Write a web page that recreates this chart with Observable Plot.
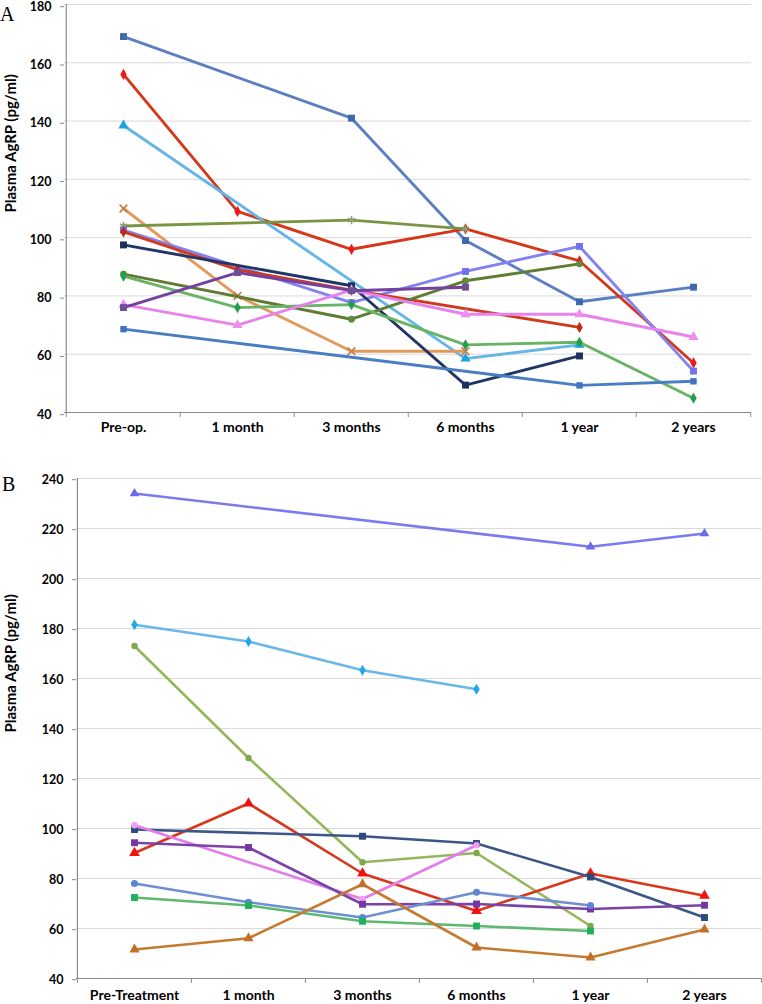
<!DOCTYPE html>
<html><head><meta charset="utf-8">
<script src="https://cdn.jsdelivr.net/npm/d3@7"></script>
<script src="https://cdn.jsdelivr.net/npm/@observablehq/plot@0.6"></script>
<style>
body{margin:0;background:#fff;}
#wrap{position:relative;width:762px;height:1004px;overflow:hidden;}
.panel{position:absolute;left:0;}
.tag{position:absolute;font-family:"Liberation Serif","DejaVu Serif",serif;font-size:20px;color:#000;}
</style></head><body>
<div id="wrap">
  <div id="pa" class="panel" style="top:0px"></div>
  <div id="pb" class="panel" style="top:450px"></div>
  <div class="tag" style="left:0px;top:3px">A</div>
  <div class="tag" style="left:2px;top:473px">B</div>
</div>
<script>
// ---------- data ----------
const categoriesA = ["Pre-op.", "1 month", "3 months", "6 months", "1 year", "2 years"];
const categoriesB = ["Pre-Treatment", "1 month", "3 months", "6 months", "1 year", "2 years"];
const yTicksA = [40, 60, 80, 100, 120, 140, 160, 180];
const yTicksB = [40, 60, 80, 100, 120, 140, 160, 180, 200, 220, 240];
const yTitle = "Plasma AgRP (pg/ml)";

// Panel A series (Pre-op, 1m, 3m, 6m, 1y, 2y)
const a1 = [169, null, 141, 99, 78, 83];
const a2 = [156, 109, 96, 103, 92, 57];
const a3 = [138.5, null, null, 58.5, 63.2, null];
const a4 = [110, 80, 61, 61, null, null];
const a5 = [104, null, 106, 103, null, null];
const a6 = [102.6, null, 77.7, 88.4, 97, 54.2];
const a7 = [102, 89, 82, null, 69.2, null];
const a8 = [97.5, null, 83.5, 49.4, 59.4, null];
const a9 = [87.5, null, 72, 85.2, 91, null];
const a10 = [86.8, 76, 77, 63.2, 64.1, 44.9];
const a11 = [77, 70, 82, 73.7, 73.7, 65.9];
const a12 = [76, 88, 81.8, 83, null, null];
const a13 = [68.6, null, null, null, 49.3, 50.7];

// Panel B series (Pre-Treatment, 1m, 3m, 6m, 1y, 2y)
const b1 = [234, null, null, null, 212.7, 218];
const b2 = [181.5, 174.8, 163.3, 155.7, null, null];
const b3 = [173, 128.2, 86.5, 90.2, 61, null];
const b4 = [90.2, 110, 82, 67, 82, 73.1];
const b5 = [99.6, null, 96.9, 94, 80.6, 64.4];
const b6 = [101.3, null, 71.8, 93.3, null, null];
const b7 = [94.3, 92.4, 69.7, 69.8, 67.8, 69.3];
const b8 = [78, 70.5, 64.4, 74.5, 69.2, null];
const b9 = [72.4, 69.2, 62.9, 61, 59, null];
const b10 = [51.6, 56.1, 77.7, 52.4, 48.4, 59.6];

// ---------- styles ----------
const seriesA = [a1, a2, a3, a4, a5, a6, a7, a8, a9, a10, a11, a12, a13];
const stylesA = [
  {line:"#5b7fc1", mark:"#3f69ad", sym:"square", r:3.9},
  {line:"#d6361a", mark:"#ee1a1a", sym:"diamond", r:3.4},
  {line:"#64b6e8", mark:"#1ea3e2", sym:"triangle", r:3.8},
  {line:"#e19a5c", mark:"#c97d45", sym:"times", r:3.6},
  {line:"#7a9443", mark:"#8f9f73", sym:"asterisk", r:3.8},
  {line:"#8282f0", mark:"#7272ee", sym:"square", r:3.9},
  {line:"#cf3a1e", mark:"#c0281a", sym:"diamond", r:3.4},
  {line:"#203667", mark:"#1c2f5e", sym:"square", r:3.9},
  {line:"#5f7c33", mark:"#5f8c3c", sym:"circle", r:3.4},
  {line:"#68b364", mark:"#20a04c", sym:"diamond", r:3.4},
  {line:"#e882ec", mark:"#f08ef0", sym:"triangle", r:3.8},
  {line:"#7342a0", mark:"#6e4f96", sym:"square", r:3.9},
  {line:"#4a7ec2", mark:"#3d73c2", sym:"square", r:3.6}
];
const seriesB = [b1, b2, b3, b4, b5, b6, b7, b8, b9, b10];
const stylesB = [
  {line:"#7b7bee", mark:"#6a6aea", sym:"triangle", r:3.6},
  {line:"#68b9e8", mark:"#1ea8ea", sym:"diamond", r:3.4},
  {line:"#96b65c", mark:"#7fa84c", sym:"circle", r:3.2},
  {line:"#d9361a", mark:"#f21010", sym:"triangle", r:4},
  {line:"#3b5687", mark:"#2d4a7c", sym:"square", r:3.9},
  {line:"#e47cea", mark:"#f29df0", sym:"circle", r:3.2},
  {line:"#7b42a8", mark:"#7436a4", sym:"square", r:3.9},
  {line:"#6e8fd0", mark:"#5f86d4", sym:"circle", r:3.6},
  {line:"#5db870", mark:"#1fb05c", sym:"square", r:3.9},
  {line:"#c57a32", mark:"#c07028", sym:"triangle", r:3.8}
];

function makePanel(cfg) {
  const {cats, series, styles, yTicks, height, ml, mr, mt, mb, lineW, xPad, labelX, labelDy, tickDy} = cfg;
  const width = 762;
  const step = (width - ml - mr) / cats.length;
  const axisGrey = "#8c8c8c";
  const marks = [
    Plot.gridY(yTicks, {stroke:"#d9d9d9", strokeOpacity:1, strokeWidth:1}),
    Plot.ruleY([yTicks[0]], {stroke:axisGrey, strokeWidth:1.2}),
    Plot.ruleX([cats[0]], {dx:-step/2, stroke:axisGrey, strokeWidth:1.2}),
    Plot.axisY(yTicks, {tickSize:4, tickPadding:9, dy:tickDy, stroke:axisGrey, fontSize:12.5, label:null}),
    Plot.axisX(cats, {tickSize:0, tickPadding:xPad, fontSize:14, label:null}),
    Plot.axisX(cats, {tickSize:5, dx:-step/2, tickFormat:() => "", stroke:axisGrey, label:null}),
    Plot.axisX([cats[cats.length-1]], {tickSize:5, dx:step/2, tickFormat:() => "", stroke:axisGrey, label:null}),
    Plot.text([yTitle], {frameAnchor:"left", text:d => d, rotate:-90, dx:labelX - ml, dy:labelDy, fontSize:15, fontWeight:"bold", fill:"#000"})
  ];
  series.forEach((vals, i) => {
    const pts = cats.map((c, j) => ({c, v: vals[j]})).filter(d => d.v != null);
    const s = styles[i];
    marks.push(Plot.line(pts, {x:"c", y:"v", stroke:s.line, strokeWidth:lineW, strokeLinejoin:"round"}));
    const strokeSym = s.sym === "times" || s.sym === "asterisk";
    marks.push(Plot.dot(pts, {x:"c", y:"v", symbol:s.sym, r:s.r,
      fill: strokeSym ? "none" : s.mark, stroke: strokeSym ? s.mark : "none", strokeWidth: strokeSym ? 1.6 : 0}));
  });
  return Plot.plot({
    width, height, marginLeft:ml, marginRight:mr, marginTop:mt, marginBottom:mb,
    style:{fontFamily:"Lato, 'Open Sans', sans-serif", fontWeight:"bold", fontSize:"12.5px", color:"#000", background:"#fff", overflow:"visible"},
    x:{type:"point", domain:cats, padding:0.5, label:null, axis:null},
    y:{domain:[yTicks[0], yTicks[yTicks.length-1]], label:null, axis:null},
    marks
  });
}

document.getElementById("pa").appendChild(makePanel({
  cats:categoriesA, series:seriesA, styles:stylesA, yTicks:yTicksA,
  height:440, ml:64, mr:11, mt:4, mb:28, lineW:2.9, xPad:10, labelX:11, labelDy:4, tickDy:2.2
}));
document.getElementById("pb").appendChild(makePanel({
  cats:categoriesB, series:seriesB, styles:stylesB, yTicks:yTicksB,
  height:554, ml:76, mr:1, mt:28, mb:26, lineW:2.6, xPad:12, labelX:11, labelDy:4, tickDy:1.2
}));
</script>
</body></html>
